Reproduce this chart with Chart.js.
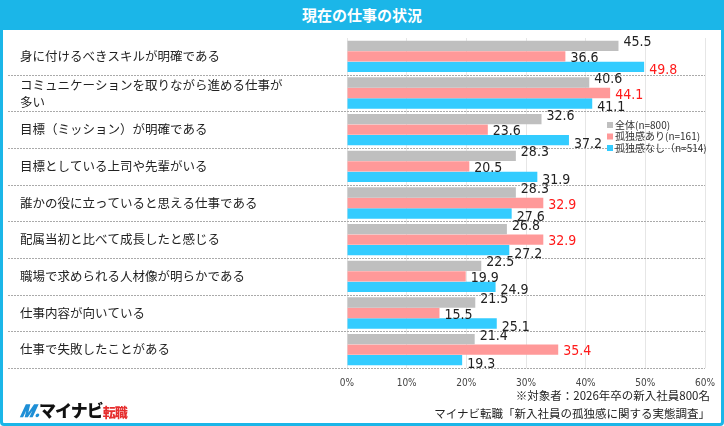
<!DOCTYPE html>
<html><head><meta charset="utf-8">
<script src="https://cdn.jsdelivr.net/npm/chart.js@4"></script>
<style>
body{margin:0;width:724px;height:426px;overflow:hidden;font-family:"Noto Sans CJK JP","Noto Sans",sans-serif;background:#fff}
#frame{position:absolute;left:0;top:0;width:718px;height:420px;border:3px solid #1bb6e8;border-radius:4px}
#title{position:absolute;left:0;top:0;width:724px;height:30px;background:#1bb6e8;color:#fff;font-weight:bold;font-size:15px;text-align:center;line-height:30px}
canvas{position:absolute;left:0;top:0}
#logo{position:absolute;left:20px;top:397px;font-weight:900;font-size:17px;color:#111;letter-spacing:-1px}
#logo .m{color:#1e8fd6;font-style:italic}
#logo .t{color:#e62e2e;font-size:13px}
#note{position:absolute;right:14px;top:386px;font-size:11.5px;text-align:right;line-height:18px;color:#222}
</style></head><body>
<div id="frame"></div>
<div id="title">現在の仕事の状況</div>
<canvas id="c" width="724" height="426"></canvas>
<div id="logo"><span class="m">𝑴.</span>マイナビ<span class="t">転職</span></div>
<div id="note">※対象者：2026年卒の新入社員800名<br>マイナビ転職「新入社員の孤独感に関する実態調査」</div>
<script>
const categories=["身に付けるべきスキルが明確である",["コミュニケーションを取りながら進める仕事が","多い"],"目標（ミッション）が明確である","目標としている上司や先輩がいる","誰かの役に立っていると思える仕事である","配属当初と比べて成長したと感じる","職場で求められる人材像が明らかである","仕事内容が向いている","仕事で失敗したことがある"];
const seriesNames=["全体(n=800)","孤独感あり(n=161)","孤独感なし（n=514)"];
const allV=[45.5,40.6,32.6,28.3,28.3,26.8,22.5,21.5,21.4];
const ariV=[36.6,44.1,23.6,20.5,32.9,32.9,19.9,15.5,35.4];
const naiV=[49.8,41.1,37.2,31.9,27.6,27.2,24.9,25.1,19.3];
const redAri=[0,1,0,0,1,1,0,0,1];
const redNai=[1,0,0,0,0,0,0,0,0];
const xTicks=[0,10,20,30,40,50,60];
const colors=["#bfbfbf","#ff9999","#33ccff"];

const labelsPlugin={id:'lbl',afterDatasetsDraw(ch){
  const ctx=ch.ctx, y=ch.scales.y, a=ch.chartArea;
  ctx.save();
  ctx.strokeStyle='#aaa';ctx.setLineDash([2,1]);ctx.lineWidth=1;
  for(let i=0;i<categories.length;i++){
    const yb=(y.getPixelForValue(i)+ (i<categories.length-1?y.getPixelForValue(i+1):y.getPixelForValue(i)+(y.getPixelForValue(i)-y.getPixelForValue(i-1))))/2;
    ctx.beginPath();ctx.moveTo(8,Math.round(yb)+0.5);ctx.lineTo(a.right,Math.round(yb)+0.5);ctx.stroke();
  }
  ctx.setLineDash([]);
  ctx.fillStyle='#222';ctx.font='12.5px "Noto Sans CJK JP"';ctx.textBaseline='middle';ctx.textAlign='left';
  categories.forEach((c,i)=>{const yc=y.getPixelForValue(i);
    if(Array.isArray(c)){ctx.fillText(c[0],20,yc-8);ctx.fillText(c[1],20,yc+9);}else ctx.fillText(c,20,yc);});
  ctx.font='14px "DejaVu Sans Condensed"';
  ch.data.datasets.forEach((ds,di)=>{
    ch.getDatasetMeta(di).data.forEach((b,i)=>{
      let red=(di==1&&redAri[i])||(di==2&&redNai[i]);
      ctx.fillStyle=red?'#ff1a1a':'#222';
      ctx.fillText(ds.data[i].toFixed(1),b.x+5,b.y+(di==0?-3:di==1?2:4));
    });
  });
  ctx.font='10px "Noto Sans CJK JP"';
  seriesNames.forEach((n,k)=>{const ly=125+k*11.5;
    ctx.fillStyle=colors[k];ctx.fillRect(607,ly-3,6,6);
    ctx.fillStyle='#333';ctx.fillText(n,615,ly);});
  ctx.restore();
}};

new Chart(document.getElementById('c'),{
  type:'bar',
  data:{labels:categories.map((c,i)=>i),datasets:seriesNames.map((n,k)=>({label:n,data:[allV,ariV,naiV][k],backgroundColor:colors[k],categoryPercentage:0.86,barPercentage:0.98}))},
  options:{indexAxis:'y',responsive:false,animation:false,
    layout:{padding:{left:347,right:19,top:38,bottom:28}},
    scales:{
      x:{min:0,max:60,ticks:{stepSize:10,color:'#444',font:{size:10,family:'DejaVu Sans Condensed'},callback:v=>v+'%',padding:9},grid:{color:'#e6e6e6',drawTicks:false},border:{display:false}},
      y:{display:false}
    },
    plugins:{legend:{display:false},tooltip:{enabled:false}}},
  plugins:[labelsPlugin]
});
</script></body></html>
